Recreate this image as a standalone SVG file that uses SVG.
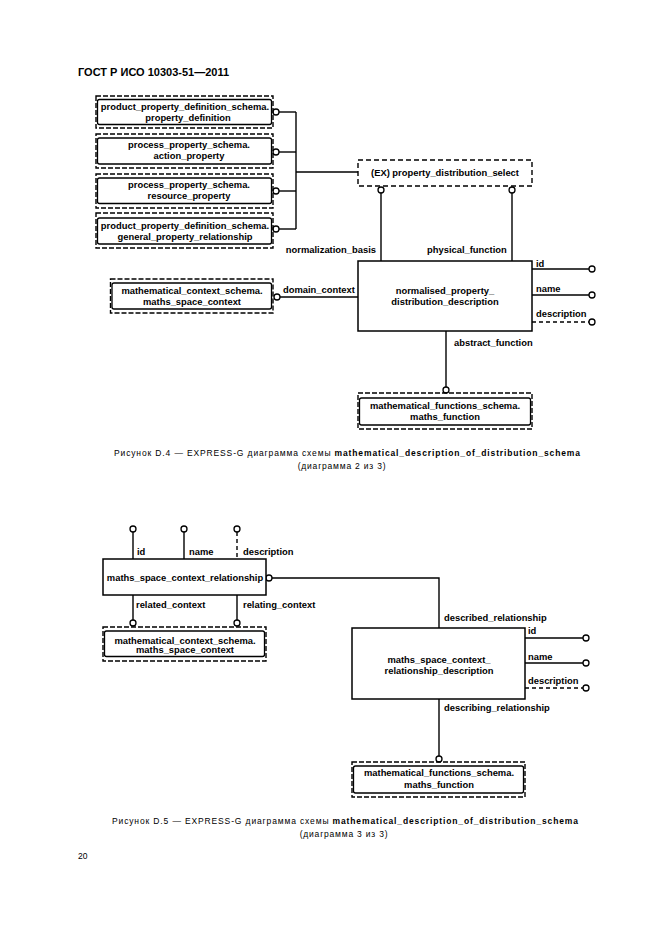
<svg xmlns="http://www.w3.org/2000/svg" width="661" height="936" viewBox="0 0 661 936">
<style>
text{font-family:"Liberation Sans",Arial,sans-serif;fill:#000}
.t{font-size:9.4px;font-weight:bold}
.c{text-anchor:middle}
.ln{stroke:#000;stroke-width:1.4;fill:none}
.dl{stroke:#000;stroke-width:1.4;fill:none;stroke-dasharray:4 3}
.box{stroke:#000;stroke-width:1.5;fill:#fff}
.ibox{stroke:#000;stroke-width:1.3;fill:#fff}
.obox{stroke:#000;stroke-width:1.4;fill:none;stroke-dasharray:5 2}
.sel{stroke:#000;stroke-width:1.4;fill:#fff;stroke-dasharray:5 3}
.cir{stroke:#000;stroke-width:1.3;fill:#fff}
.cap{font-size:8.5px}
</style>
<rect width="661" height="936" fill="#fff"/>
<text x="78" y="76" style="font-size:11px;font-weight:bold">ГОСТ Р ИСО 10303-51—2011</text>

<g id="connectors">
  <polyline class="ln" points="279,112 296,112"/>
  <polyline class="ln" points="279,152 296,152"/>
  <polyline class="ln" points="279,191 296,191"/>
  <polyline class="ln" points="279,229 296,229"/>
  <line class="ln" x1="296" y1="112" x2="296" y2="229"/>
  <line class="ln" x1="296" y1="172" x2="358" y2="172"/>
  <line class="ln" x1="381" y1="193" x2="381" y2="261"/>
  <line class="ln" x1="512" y1="193" x2="512" y2="261"/>
  <line class="ln" x1="280" y1="297" x2="358" y2="297"/>
  <line class="ln" x1="532" y1="269" x2="589" y2="269"/>
  <line class="ln" x1="532" y1="295" x2="589" y2="295"/>
  <line class="dl" x1="532" y1="322" x2="589" y2="322"/>
  <line class="ln" x1="446" y1="331" x2="446" y2="387"/>
  <circle class="cir" cx="276" cy="112" r="3"/>
  <circle class="cir" cx="276" cy="152" r="3"/>
  <circle class="cir" cx="276" cy="191" r="3"/>
  <circle class="cir" cx="276" cy="229" r="3"/>
  <circle class="cir" cx="381" cy="190" r="3"/>
  <circle class="cir" cx="512" cy="190" r="3"/>
  <circle class="cir" cx="277" cy="297" r="3"/>
  <circle class="cir" cx="592" cy="269" r="3"/>
  <circle class="cir" cx="592" cy="295" r="3"/>
  <circle class="cir" cx="592" cy="322" r="3"/>
  <circle class="cir" cx="446" cy="390" r="3"/>

  <line class="ln" x1="133" y1="532" x2="133" y2="559"/>
  <line class="ln" x1="184" y1="532" x2="184" y2="559"/>
  <line class="dl" x1="237" y1="532" x2="237" y2="559"/>
  <line class="ln" x1="133" y1="595" x2="133" y2="620"/>
  <line class="ln" x1="237" y1="595" x2="237" y2="620"/>
  <polyline class="ln" points="272,578 439,578 439,628"/>
  <line class="ln" x1="525" y1="638" x2="583" y2="638"/>
  <line class="ln" x1="525" y1="663" x2="583" y2="663"/>
  <line class="dl" x1="525" y1="688" x2="583" y2="688"/>
  <line class="ln" x1="439" y1="699" x2="439" y2="756"/>
  <circle class="cir" cx="133" cy="529" r="3"/>
  <circle class="cir" cx="184" cy="529" r="3"/>
  <circle class="cir" cx="237" cy="529" r="3"/>
  <circle class="cir" cx="133" cy="623" r="3"/>
  <circle class="cir" cx="237" cy="623" r="3"/>
  <circle class="cir" cx="269" cy="578" r="3"/>
  <circle class="cir" cx="586" cy="638" r="3"/>
  <circle class="cir" cx="586" cy="663" r="3"/>
  <circle class="cir" cx="586" cy="688" r="3"/>
  <circle class="cir" cx="439" cy="759" r="3"/>

  <g class="t">
    <text x="376" y="253" text-anchor="end">normalization_basis</text>
    <text x="427" y="253">physical_function</text>
    <text x="283" y="293">domain_context</text>
    <text x="536" y="267">id</text>
    <text x="536" y="292">name</text>
    <text x="536" y="317">description</text>
    <text x="454" y="346">abstract_function</text>
    <text x="137" y="555">id</text>
    <text x="189" y="555">name</text>
    <text x="243" y="555">description</text>
    <text x="136" y="608">related_context</text>
    <text x="243" y="608">relating_context</text>
    <text x="444" y="621">described_relationship</text>
    <text x="528" y="634">id</text>
    <text x="528" y="660">name</text>
    <text x="528" y="684">description</text>
    <text x="444" y="711">describing_relationship</text>
  </g>
</g>

<g id="ppds_property_definition">
  <rect class="obox" x="96" y="96" width="177" height="32"/>
  <rect class="ibox" x="97.5" y="99.5" width="174" height="25" rx="2"/>
  <text class="t c" x="185" y="110">product_property_definition_schema.</text>
  <text class="t c" x="188" y="120.5">property_definition</text>
</g>
<g id="pps_action_property">
  <rect class="obox" x="96" y="134" width="177" height="34"/>
  <rect class="ibox" x="97.5" y="138" width="174" height="26" rx="2"/>
  <text class="t c" x="189" y="148">process_property_schema.</text>
  <text class="t c" x="189" y="158.5">action_property</text>
</g>
<g id="pps_resource_property">
  <rect class="obox" x="96" y="174" width="177" height="34"/>
  <rect class="ibox" x="97.5" y="178" width="174" height="25.5" rx="2"/>
  <text class="t c" x="189" y="188">process_property_schema.</text>
  <text class="t c" x="189" y="199">resource_property</text>
</g>
<g id="ppds_general_property_relationship">
  <rect class="obox" x="96" y="213" width="177" height="35"/>
  <rect class="ibox" x="97.5" y="218" width="174" height="26" rx="2"/>
  <text class="t c" x="185" y="229">product_property_definition_schema.</text>
  <text class="t c" x="185" y="239.5">general_property_relationship</text>
</g>
<g id="property_distribution_select">
  <rect class="sel" x="358" y="160" width="174" height="26"/>
  <text class="t c" x="445" y="176">(EX) property_distribution_select</text>
</g>
<g id="normalised_property_distribution_description">
  <rect class="box" x="358" y="261" width="174" height="70"/>
  <text class="t c" x="445" y="294">normalised_property_</text>
  <text class="t c" x="445" y="304.5">distribution_description</text>
</g>
<g id="mcs_maths_space_context_1">
  <rect class="obox" x="110.5" y="279" width="162.5" height="34"/>
  <rect class="ibox" x="112" y="283" width="159.5" height="26" rx="2"/>
  <text class="t c" x="192" y="294">mathematical_context_schema.</text>
  <text class="t c" x="192" y="304.5">maths_space_context</text>
</g>
<g id="mfs_maths_function_1">
  <rect class="obox" x="358" y="393" width="174" height="36"/>
  <rect class="ibox" x="359.5" y="398" width="171" height="27" rx="2"/>
  <text class="t c" x="445" y="409">mathematical_functions_schema.</text>
  <text class="t c" x="445" y="420">maths_function</text>
</g>

<text class="cap" x="114" y="456" textLength="466" lengthAdjust="spacing">Рисунок D.4 — EXPRESS-G диаграмма схемы <tspan font-weight="bold">mathematical_description_of_distribution_schema</tspan></text>
<text class="cap" x="342" y="469" text-anchor="middle" letter-spacing="0.8">(диаграмма 2 из 3)</text>

<g id="maths_space_context_relationship">
  <rect class="box" x="103" y="559" width="163" height="36"/>
  <text class="t c" x="185" y="581">maths_space_context_relationship</text>
</g>
<g id="mcs_maths_space_context_2">
  <rect class="obox" x="103" y="627" width="163" height="34"/>
  <rect class="ibox" x="104.5" y="631" width="160" height="25.5" rx="2"/>
  <text class="t c" x="185" y="643.5">mathematical_context_schema.</text>
  <text class="t c" x="185" y="653">maths_space_context</text>
</g>
<g id="maths_space_context_relationship_description">
  <rect class="box" x="352" y="628" width="173" height="71"/>
  <text class="t c" x="439" y="663">maths_space_context_</text>
  <text class="t c" x="439" y="673.5">relationship_description</text>
</g>
<g id="mfs_maths_function_2">
  <rect class="obox" x="352" y="762" width="173" height="35"/>
  <rect class="ibox" x="353.5" y="766" width="170" height="27" rx="2"/>
  <text class="t c" x="439" y="775.5">mathematical_functions_schema.</text>
  <text class="t c" x="439" y="787.5">maths_function</text>
</g>

<text class="cap" x="112" y="824" textLength="466" lengthAdjust="spacing">Рисунок D.5 — EXPRESS-G диаграмма схемы <tspan font-weight="bold">mathematical_description_of_distribution_schema</tspan></text>
<text class="cap" x="344" y="837" text-anchor="middle" letter-spacing="0.8">(диаграмма 3 из 3)</text>

<text class="cap" x="78" y="859">20</text>
</svg>
